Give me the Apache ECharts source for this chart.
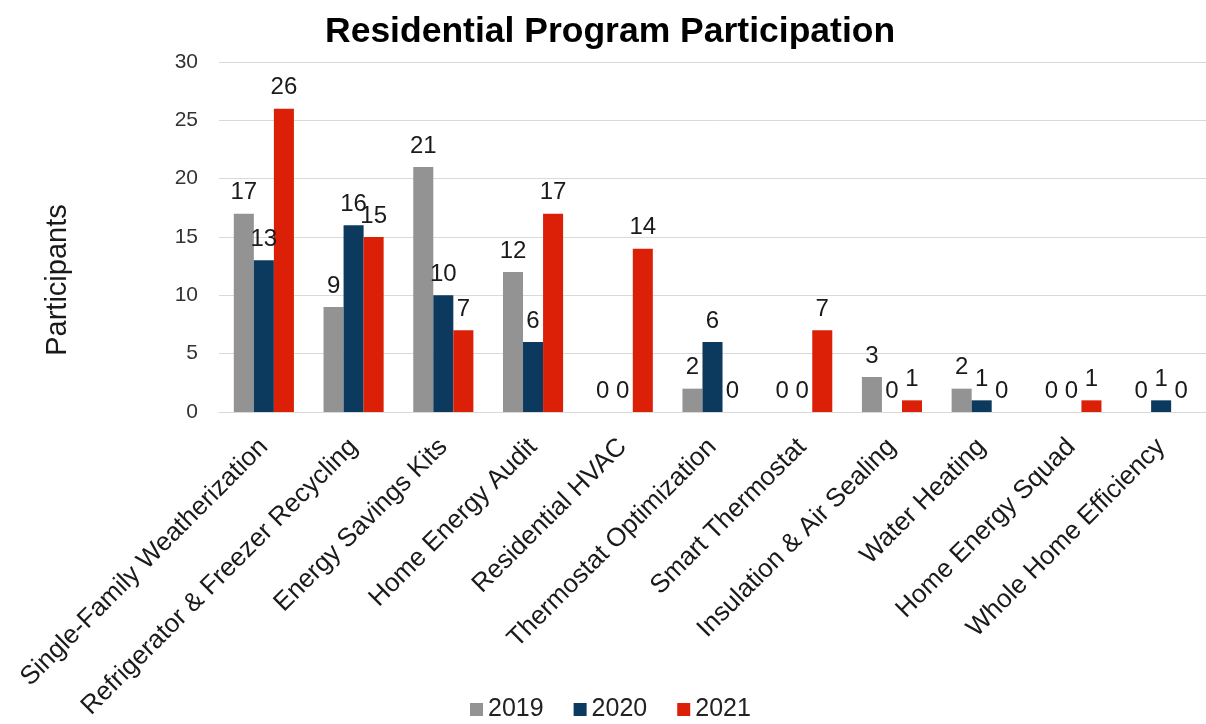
<!DOCTYPE html>
<html>
<head>
<meta charset="utf-8">
<script src="https://cdn.jsdelivr.net/npm/echarts@6/dist/echarts.min.js"></script>
<style>
  html, body { margin: 0; padding: 0; background: #ffffff; }
  #chart { width: 1206px; height: 724px; }
</style>
</head>
<body>
<div id="chart"></div>
<script>
// Program names along the category axis
const programs = [
  'Single-Family Weatherization',
  'Refrigerator & Freezer Recycling',
  'Energy Savings Kits',
  'Home Energy Audit',
  'Residential HVAC',
  'Thermostat Optimization',
  'Smart Thermostat',
  'Insulation & Air Sealing',
  'Water Heating',
  'Home Energy Squad',
  'Whole Home Efficiency'
];

// Participants per program year
const years = ['2019', '2020', '2021'];
const participants2019 = [17, 9, 21, 12, 0, 2, 0, 3, 2, 0, 0];
const participants2020 = [13, 16, 10, 6, 0, 6, 0, 0, 1, 0, 1];
const participants2021 = [26, 15, 7, 17, 14, 0, 7, 1, 0, 1, 0];

const yTicks = { min: 0, max: 30, interval: 5 };
const colors = ['#939393', '#0c3a5e', '#dc2008'];

const seriesData = [participants2019, participants2020, participants2021];

const chart = echarts.init(document.getElementById('chart'));

chart.setOption({
  animation: false,
  backgroundColor: '#ffffff',
  textStyle: { fontFamily: 'Liberation Sans, Arial, sans-serif' },
  title: {
    text: 'Residential Program Participation',
    left: 320,
    top: 9,
    textStyle: {
      fontFamily: 'Liberation Sans, Arial, sans-serif',
      fontWeight: 'bold',
      fontSize: 35.5,
      color: '#000000'
    }
  },
  legend: {
    data: years,
    bottom: -3,
    left: 465,
    itemWidth: 13,
    itemHeight: 13,
    itemGap: 30,
    icon: 'rect',
    textStyle: { fontSize: 25, color: '#222222' }
  },
  grid: { left: 219, right: -5, top: 62, bottom: 312 },
  xAxis: {
    type: 'category',
    data: programs,
    axisLine: { show: true, lineStyle: { color: '#d9d9d9', width: 1 } },
    axisTick: { show: false },
    axisLabel: {
      interval: 0,
      rotate: 45,
      fontSize: 26,
      color: '#1a1a1a',
      margin: 31
    }
  },
  yAxis: {
    type: 'value',
    min: yTicks.min,
    max: yTicks.max,
    interval: yTicks.interval,
    name: 'Participants',
    nameLocation: 'middle',
    nameGap: 147,
    nameTextStyle: { fontSize: 29, color: '#1a1a1a', padding: [0, 86, 0, 0] },
    axisLine: { show: false },
    axisTick: { show: false },
    axisLabel: { fontSize: 21, color: '#333333', margin: 21 },
    splitLine: { lineStyle: { color: '#d9d9d9', width: 1 } }
  },
  series: years.map((y, i) => ({
    name: y,
    type: 'bar',
    data: seriesData[i],
    barGap: '0%',
    barCategoryGap: '33%',
    itemStyle: { color: colors[i] },
    label: {
      show: true,
      position: 'top',
      distance: 9,
      fontSize: 24,
      color: '#1a1a1a'
    }
  }))
});
</script>
</body>
</html>
